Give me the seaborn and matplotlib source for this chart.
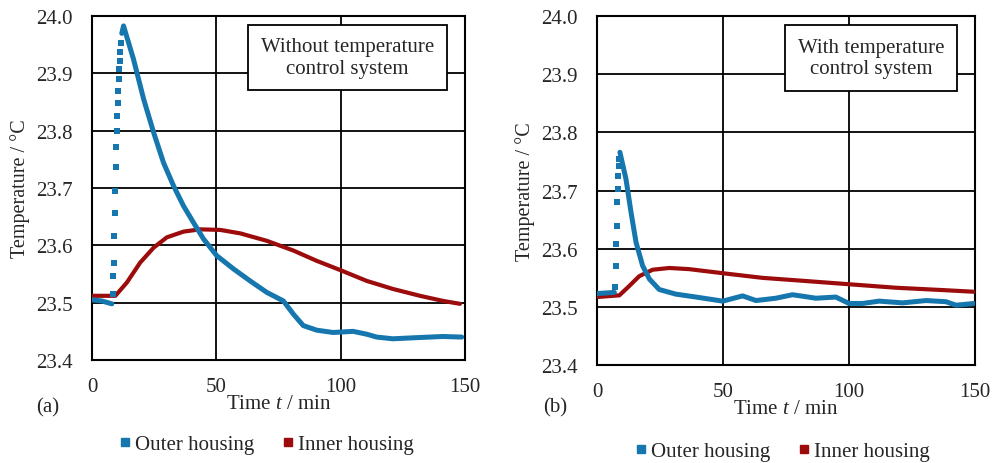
import numpy as np
import pandas as pd
import matplotlib
matplotlib.use("Agg")
import matplotlib.pyplot as plt
import seaborn as sns
from matplotlib.lines import Line2D

sns.set_style("white")
plt.rcParams['font.family'] = ['Liberation Serif', 'DejaVu Serif']
plt.rcParams['mathtext.fontset'] = 'custom'
plt.rcParams['mathtext.it'] = 'Liberation Serif:italic'
plt.rcParams['mathtext.rm'] = 'Liberation Serif'

BLUE = '#1577ad'
RED = '#9c0c0c'

# (a) without temperature control system
a_base_t = [0, 4, 8]
a_base_T = [23.505, 23.503, 23.498]
a_decay_t = [12.0, 12.7, 16.7, 20.8, 24.8, 28.8, 32.8, 36.8, 40.8, 44.9, 50.2, 56.9,
             63.6, 70.3, 77, 81, 85, 90.4, 97, 105, 110.5, 114.5, 121, 130.6, 141, 148.7]
a_decay_T = [23.970, 23.983, 23.925, 23.855, 23.797, 23.744, 23.704, 23.669,
             23.640, 23.611, 23.582, 23.559, 23.538, 23.518, 23.503, 23.480, 23.460, 23.452,
             23.448, 23.450, 23.445, 23.440, 23.437, 23.439, 23.441, 23.440]
a_rise_t = [8.4, 8.6, 8.8, 9.0, 9.2, 9.4, 9.6, 9.8, 10.0, 10.2, 10.4, 10.6, 10.8, 11.0, 11.2, 11.4, 11.7]
a_rise_T = [23.515, 23.547, 23.570, 23.617, 23.657, 23.695, 23.736, 23.771, 23.800, 23.826,
            23.849, 23.870, 23.890, 23.908, 23.922, 23.937, 23.954]
a_inner_t = [0, 9.4, 14, 19.4, 24.8, 30.1, 36.8, 43.5, 51.6, 59.6, 70.3, 81, 90.4, 99.8,
             110.5, 121, 131.9, 141.3, 148]
a_inner_T = [23.512, 23.512, 23.535, 23.570, 23.596, 23.614, 23.624, 23.628, 23.627, 23.621,
             23.608, 23.591, 23.573, 23.557, 23.538, 23.524, 23.512, 23.503, 23.498]

# (b) with temperature control system
b_base_t = [0, 3.5, 6.9]
b_base_T = [23.523, 23.524, 23.525]
b_decay_t = [9.1, 11.5, 13.5, 15.5, 18.1, 20.8, 24.7, 31.3, 39.3, 49.9, 57.8, 63.1,
             71, 77.6, 86.9, 94.8, 100, 105.4, 112, 121.3, 130.6, 138.5, 142.5, 149.7]
b_decay_T = [23.766, 23.720, 23.663, 23.611, 23.571, 23.548, 23.530, 23.522,
             23.517, 23.510, 23.519, 23.511, 23.515, 23.521, 23.515, 23.517, 23.506, 23.506,
             23.510, 23.507, 23.511, 23.509, 23.503, 23.506]
b_rise_t = [7.1, 7.4, 7.6, 7.8, 8.0, 8.2, 8.4, 8.6, 8.8]
b_rise_T = [23.535, 23.571, 23.608, 23.639, 23.680, 23.703, 23.726, 23.743, 23.755]
b_inner_t = [0, 8.9, 12.8, 16.8, 22.1, 28.7, 36.6, 49.9, 65.7, 81.6, 100.1, 118.7, 137.2, 150]
b_inner_T = [23.517, 23.520, 23.536, 23.553, 23.564, 23.567, 23.565, 23.558, 23.550, 23.545,
             23.539, 23.533, 23.529, 23.526]

panels = [
    dict(pos=[0.0927, 0.222, 0.376, 0.741], base=(a_base_t, a_base_T), decay=(a_decay_t, a_decay_T),
         rise=(a_rise_t, a_rise_T), inner=(a_inner_t, a_inner_T),
         box="Without temperature\ncontrol system", box_x=0.685,
         tag="(a)", tag_xy=(48, 408), leg_y=445, leg_x=265),
    dict(pos=[0.6018, 0.211, 0.381, 0.752], base=(b_base_t, b_base_T), decay=(b_decay_t, b_decay_T),
         rise=(b_rise_t, b_rise_T), inner=(b_inner_t, b_inner_T),
         box="With temperature\ncontrol system", box_x=0.725,
         tag="(b)", tag_xy=(555, 408), leg_y=452, leg_x=781),
]

fig = plt.figure(figsize=(9.92, 4.64), dpi=100)

for p in panels:
    ax = fig.add_axes(p['pos'])
    sns.lineplot(x=p['inner'][0], y=p['inner'][1], ax=ax, color=RED, lw=3.0, zorder=3)
    sns.lineplot(x=p['base'][0], y=p['base'][1], ax=ax, color=BLUE, lw=3.6, zorder=4)
    sns.lineplot(x=p['decay'][0], y=p['decay'][1], ax=ax, color=BLUE, lw=3.6, zorder=4)
    sns.scatterplot(x=p['rise'][0], y=p['rise'][1], ax=ax, color=BLUE, marker='s', s=15,
                    linewidth=0, zorder=4)
    ax.set_xlim(0, 150)
    ax.set_ylim(23.4, 24.0)
    ax.set_xticks([0, 50, 100, 150])
    ax.set_yticks(np.arange(23.4, 24.01, 0.1))
    ax.set_yticklabels([f"{v:.1f}" for v in np.arange(23.4, 24.01, 0.1)])
    ax.tick_params(axis='y', length=0, labelsize=15, pad=14)
    ax.tick_params(axis='x', length=0, labelsize=15, pad=12)
    ax.grid(True, color='black', lw=1.3)
    for s in ax.spines.values():
        s.set_color('black')
        s.set_linewidth(1.5)
    ax.set_xlabel("Time $t$ / min", fontsize=15, labelpad=-1)
    ax.set_ylabel("Temperature / \u00b0C", fontsize=14.5, labelpad=4)
    ax.text(p['box_x'], 0.88, p['box'], transform=ax.transAxes, ha='center', va='center',
            fontsize=15, linespacing=1.2, zorder=6,
            bbox=dict(boxstyle='square,pad=0.6', fc='white', ec='black', lw=1.3))
    fig.text(p['tag_xy'][0] / 992, 1 - p['tag_xy'][1] / 464, p['tag'], fontsize=15,
             ha='center', va='center')
    handles = [Line2D([], [], ls='', marker='s', color=BLUE, markersize=6),
               Line2D([], [], ls='', marker='s', color=RED, markersize=6)]
    fig.legend(handles, ["Outer housing", "Inner housing"], loc='center',
               bbox_to_anchor=(p['leg_x'] / 992, 1 - p['leg_y'] / 464), ncol=2, frameon=False,
               fontsize=15, handletextpad=0.1, columnspacing=1.2, handlelength=0.8)

fig.savefig("out.png", dpi=100)
